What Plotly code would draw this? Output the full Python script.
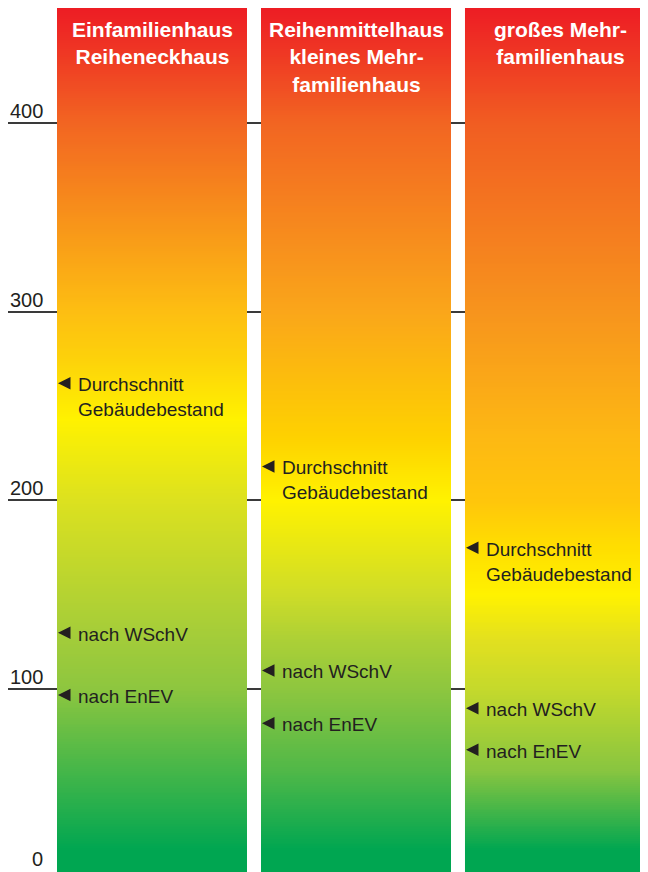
import numpy as np
import plotly.graph_objects as go

# ---------------- data ----------------
kategorien = [
    "Einfamilienhaus<br>Reiheneckhaus",
    "Reihenmittelhaus<br>kleines Mehr-<br>familienhaus",
    "großes Mehr-<br>familienhaus",
]
skala_oben = [461, 461, 461]          # top of each graded bar
durchschnitt = [262, 218, 175]        # Durchschnitt Gebäudebestand
nach_wschv = [130, 110, 90]
nach_enev = [97, 82, 68]
tick_werte = [0, 100, 200, 300, 400]
tick_texte = ["0", "100", "200", "300", "400"]
marken_texte = ["Durchschnitt<br>Gebäudebestand", "nach WSchV", "nach EnEV"]

# ---------------- style ----------------
verlauf = [
    [(0, "#00A651"), (15, "#00A651"), (62, "#4DB848"), (100, "#8DC63F"), (130, "#A5CD39"),
     (200, "#DCE11F"), (243, "#FFF200"), (274, "#FDD20A"), (300, "#FDBE12"), (400, "#F26522"),
     (448, "#EE2A24"), (461, "#ED1C24")],
    [(0, "#00A651"), (15, "#00A651"), (57, "#50B848"), (100, "#8DC63F"), (126, "#ACD036"),
     (152, "#D0DD27"), (200, "#FFF200"), (232, "#FED200"), (300, "#FAA61A"), (400, "#F26522"),
     (448, "#EE2A24"), (461, "#ED1C24")],
    [(0, "#00A651"), (15, "#00A651"), (57, "#88C540"), (100, "#C4D92C"), (126, "#E2E01F"),
     (150, "#FFF200"), (175, "#FFDE00"), (200, "#FFC60B"), (232, "#FDB913"), (300, "#F7941D"),
     (400, "#F15D22"), (448, "#EE2A24"), (461, "#ED1C24")],
]
halbe_breite = 0.4657
pfeil_dx = -0.4608
text_dx = -0.3725
dunkel = "#231F20"
font_fam = "Liberation Sans, Arial, sans-serif"
y_min, y_max = 3.27, 460.73

fig = go.Figure()

for i, (kat, top) in enumerate(zip(kategorien, skala_oben)):
    y_edges = np.arange(0, top + 1, 1.0)
    z = ((y_edges[:-1] + y_edges[1:]) / 2).reshape(-1, 1)
    cs = [[v / top, c] for v, c in verlauf[i]]
    fig.add_trace(go.Heatmap(
        x=[i - halbe_breite, i + halbe_breite], y=y_edges, z=z,
        zmin=0, zmax=top, colorscale=cs, showscale=False, hoverinfo="skip",
    ))
    fig.add_annotation(
        x=i, y=1, xref="x", yref="paper", yanchor="top", xanchor="center",
        yshift=-8, text=f"<b>{kat}</b>", showarrow=False,
        font=dict(family=font_fam, size=21, color="white"), align="center",
    )

reihen = [durchschnitt, nach_wschv, nach_enev]
for werte, txt in zip(reihen, marken_texte):
    xs = [i + pfeil_dx for i in range(len(kategorien))]
    fig.add_trace(go.Scatter(
        x=xs, y=werte, mode="markers",
        marker=dict(symbol="arrow-left", size=12.5, color=dunkel, line=dict(width=0)),
        hoverinfo="skip",
    ))
    for i, v in enumerate(werte):
        fig.add_annotation(
            x=i + text_dx, y=v, xanchor="left", yanchor="top", yshift=11,
            text=txt, showarrow=False, align="left",
            font=dict(family=font_fam, size=19, color=dunkel),
        )

for tv, tt in zip(tick_werte, tick_texte):
    fig.add_annotation(
        x=-0.5245, y=(tv - y_min) / (y_max - y_min), yref="paper",
        xanchor="right", yanchor="bottom", yshift=(6.5 if tv == 0 else -1),
        text=tt, showarrow=False,
        font=dict(family=font_fam, size=20, color=dunkel),
    )

fig.update_layout(
    width=640, height=864,
    margin=dict(l=0, r=0, t=0, b=0),
    plot_bgcolor="white", paper_bgcolor="white",
    showlegend=False,
    xaxis=dict(range=[-0.7059, 2.4314], showgrid=False, zeroline=False,
               showticklabels=False, ticks="", showline=False, fixedrange=True),
    yaxis=dict(range=[y_min, y_max], tickvals=tick_werte[1:], showgrid=True,
               gridcolor="#3a3a3a", gridwidth=1.5, zeroline=False,
               showticklabels=False, ticks="", showline=False, fixedrange=True),
)

fig.write_html("out.html")
